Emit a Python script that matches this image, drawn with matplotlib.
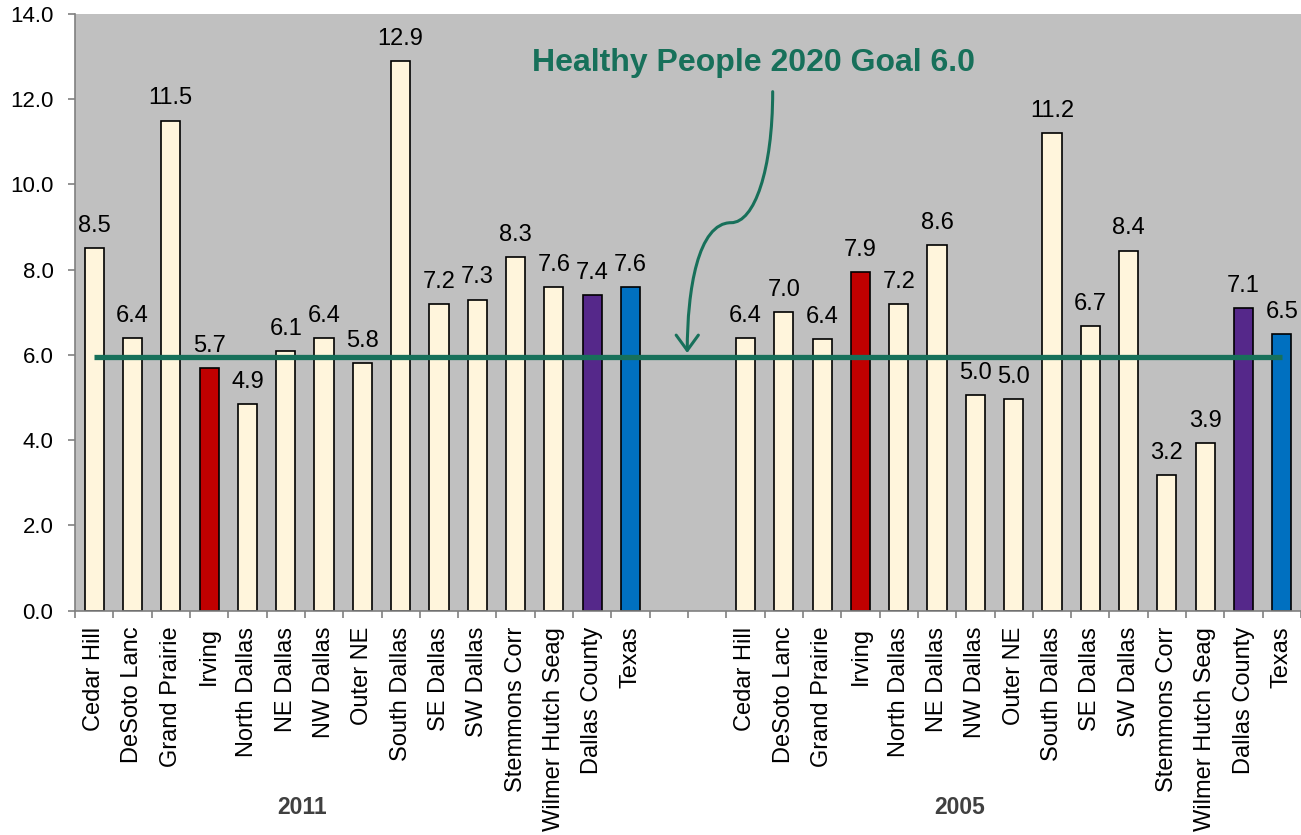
import matplotlib
matplotlib.use("Agg")
import matplotlib.pyplot as plt
from matplotlib.path import Path
from matplotlib.patches import FancyArrowPatch
import numpy as np

plt.rcParams['font.family'] = ['Liberation Sans', 'DejaVu Sans']

areas = ["Cedar Hill", "DeSoto Lanc", "Grand Prairie", "Irving", "North Dallas",
         "NE Dallas", "NW Dallas", "Outer NE", "South Dallas", "SE Dallas",
         "SW Dallas", "Stemmons Corr", "Wilmer Hutch Seag", "Dallas County", "Texas"]
vals_2011 = [8.5, 6.4, 11.5, 5.7, 4.85, 6.1, 6.4, 5.8, 12.9, 7.2, 7.3, 8.3, 7.6, 7.4, 7.6]
labels_2011 = ["8.5", "6.4", "11.5", "5.7", "4.9", "6.1", "6.4", "5.8", "12.9", "7.2",
               "7.3", "8.3", "7.6", "7.4", "7.6"]
vals_2005 = [6.4, 7.0, 6.37, 7.95, 7.2, 8.57, 5.05, 4.97, 11.2, 6.67, 8.45, 3.18, 3.93, 7.1, 6.5]
labels_2005 = ["6.4", "7.0", "6.4", "7.9", "7.2", "8.6", "5.0", "5.0", "11.2", "6.7",
               "8.4", "3.2", "3.9", "7.1", "6.5"]
years = ["2011", "2005"]
goal = 5.96
goal_text = "Healthy People 2020 Goal 6.0"

CREAM = "#FFF5DC"
special = {"Irving": "#C00000", "Dallas County": "#55288A", "Texas": "#0070C0"}
GREEN = "#17705A"

fig = plt.figure(figsize=(13.01, 8.35), dpi=100)
W, H = 1301, 835
STEP = 38.44
ax = fig.add_axes([75 / W, 1 - 610.7 / H, (1301 - 75) / W, (610.7 - 14) / H])
ax.set_facecolor("#C0C0C0")

n = len(areas)
gap = 2
x11 = np.arange(n)
x05 = np.arange(n) + n + gap
xs = np.concatenate([x11, x05])
vals = vals_2011 + vals_2005
labs = labels_2011 + labels_2005
names = areas + areas
colors = [special.get(a, CREAM) for a in names]

ax.bar(xs, vals, width=0.5, color=colors, edgecolor="black", linewidth=1.2, zorder=2)
for x, v, l in zip(xs, vals, labs):
    ax.annotate(l, (x, v), xytext=(0, 8), textcoords="offset points",
                ha="center", va="bottom", fontsize=17, color="black")

# goal line
ax.plot([xs[0], xs[-1]], [goal, goal], color=GREEN, lw=3.8, zorder=3, solid_capstyle="butt")

ax.set_ylim(0, 14)
ax.set_xlim(-0.5, -0.5 + (1301 - 75) / STEP)
ax.set_yticks(np.arange(0, 14.01, 2))
ax.set_yticklabels([f"{t:.1f}" for t in np.arange(0, 14.01, 2)], fontsize=16)

ax.set_xticks(xs)
ax.set_xticklabels(names, rotation=90, fontsize=17, va="top")
ax.set_xticks(np.arange(-0.5, 2 * n + gap, 1.0), minor=True)
ax.tick_params(axis="x", which="major", length=0, pad=11.5)
ax.tick_params(axis="x", which="minor", length=5, color="#808080", width=1.2)
ax.tick_params(axis="y", length=5, color="#808080", width=1.2, pad=10.5)

for s in ["top", "right"]:
    ax.spines[s].set_visible(False)
for s in ["left", "bottom"]:
    ax.spines[s].set_color("#808080")
    ax.spines[s].set_linewidth(1.2)

# group year labels
fig.text(302 / W, 1 - 808 / H, years[0], ha="center", va="center",
         fontsize=16.5, fontweight="bold", color="#404040")
fig.text(960 / W, 1 - 808 / H, years[1], ha="center", va="center",
         fontsize=16.5, fontweight="bold", color="#404040")

# goal annotation text
fig.text(754 / W, 1 - 63 / H, goal_text, ha="center", va="center",
         fontsize=23, fontweight="bold", color=GREEN)

# curved arrow (pixel positions converted to data coords)
def d(px, py):
    return ((px - 75) / STEP - 0.5, (610.7 - py) / 42.62)

pts = [d(775, 91.7), d(775, 170), d(756.7, 222.7), d(733.3, 222.7),
       d(700, 222.7), d(689.3, 290), d(689.3, 353)]
codes = [Path.MOVETO, Path.CURVE4, Path.CURVE4, Path.CURVE4,
         Path.CURVE4, Path.CURVE4, Path.CURVE4]
arrow = FancyArrowPatch(path=Path(pts, codes), arrowstyle="->,head_length=11,head_width=8",
                        color=GREEN, lw=2.2, zorder=4)
ax.add_patch(arrow)

fig.savefig("out.png", dpi=100)
